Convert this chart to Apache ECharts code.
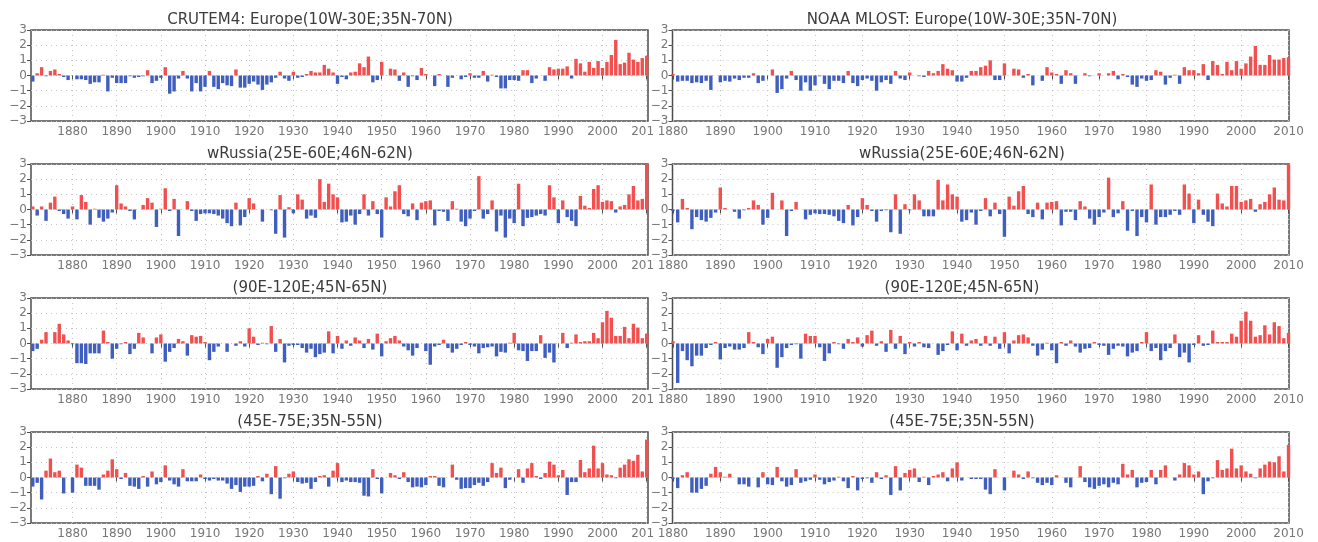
<!DOCTYPE html>
<html>
<head>
<meta charset="utf-8">
<script src="https://cdn.jsdelivr.net/npm/echarts@6/dist/echarts.min.js"></script>
<style>
html,body{margin:0;padding:0;background:#ffffff;}
#chart{width:1318px;height:542px;}
</style>
</head>
<body>
<div id="chart"></div>
<script>
// ---------------- DATA ----------------
const CRU_START_YEAR = 1871;   // CRUTEM4 panels (left column)
const NOAA_START_YEAR = 1880;  // NOAA MLOST panels (right column)
const DECADE_TICKS = [1880, 1890, 1900, 1910, 1920, 1930, 1940, 1950, 1960, 1970, 1980, 1990, 2000, 2010];

const TITLES_LEFT = ['CRUTEM4: Europe(10W-30E;35N-70N)', 'wRussia(25E-60E;46N-62N)', '(90E-120E;45N-65N)', '(45E-75E;35N-55N)'];
const TITLES_RIGHT = ['NOAA MLOST: Europe(10W-30E;35N-70N)', 'wRussia(25E-60E;46N-62N)', '(90E-120E;45N-65N)', '(45E-75E;35N-55N)'];

// CRUTEM4, 1871-2010
const cruEurope = [
  -0.4, 0.15, 0.55, -0.05, 0.3, 0.4, 0.1, -0.1, -0.3, 0.0,
  -0.25, -0.25, -0.3, -0.55, -0.45, -0.45, 0.05, -1.05, -0.15, -0.5,
  -0.5, -0.5, -0.05, -0.15, -0.1, -0.05, 0.35, -0.5, -0.35, -0.15,
  0.55, -1.2, -1.05, -0.2, 0.3, -0.2, -1.05, -0.5, -1.05, -0.75,
  0.3, -0.75, -0.9, -0.5, -0.65, -0.7, 0.4, -0.8, -0.8, -0.55,
  -0.4, -0.6, -0.95, -0.6, -0.45, -0.15, 0.25, -0.2, -0.35, 0.25,
  -0.15, -0.1, 0.1, 0.3, 0.2, 0.2, 0.7, 0.45, 0.2, -0.55,
  -0.1, -0.25, 0.2, 0.25, 0.8, 0.55, 1.25, -0.45, -0.3, 0.9,
  0.0, 0.45, 0.4, -0.35, 0.2, -0.75, -0.05, -0.3, 0.5, 0.1,
  0.0, -0.7, 0.1, 0.0, -0.75, -0.15, 0.0, -0.25, -0.1, 0.15,
  -0.15, -0.15, 0.3, -0.4, 0.05, -0.1, -0.85, -0.85, -0.3, -0.3,
  -0.35, 0.35, 0.35, -0.5, -0.2, 0.0, -0.35, 0.55, 0.4, 0.45,
  0.45, 0.6, -0.2, 1.1, 0.8, 0.25, 0.9, 0.5, 0.95, 0.5,
  0.9, 1.35, 2.35, 0.75, 0.85, 1.5, 1.05, 0.9, 1.15, 1.3
];
const cruWRussia = [
  0.2, -0.4, 0.2, -0.75, 0.45, 0.85, -0.1, -0.3, -0.6, 0.2,
  -0.65, 0.95, 0.5, -1.0, 0.05, -0.55, -0.8, -0.6, -0.2, 1.6,
  0.4, 0.2, -0.1, -0.65, 0.0, 0.3, 0.75, 0.45, -1.15, 0.05,
  1.4, -0.1, 0.7, -1.75, 0.0, 0.55, -0.1, -0.75, -0.3, -0.25,
  -0.25, -0.3, -0.4, -0.6, -0.9, -1.1, 0.45, -1.05, -0.5, 0.75,
  0.4, 0.0, -0.8, 0.0, -0.05, -1.6, 0.95, -1.85, 0.15, -0.25,
  1.0, 0.65, -0.6, -0.4, -0.55, 2.0, 0.5, 1.7, 1.0, 0.8,
  -0.85, -0.8, -0.4, -1.0, -0.3, 1.0, -0.4, 0.55, -0.3, -1.85,
  0.8, 0.2, 1.2, 1.6, -0.3, -0.45, 0.4, -0.7, 0.45, 0.55,
  0.6, -1.05, -0.1, -0.15, -0.75, 0.55, 0.05, -0.8, -1.1, -0.6,
  -0.1, 2.2, -0.6, -0.3, 0.6, -1.45, -0.4, -1.85, -0.6, -0.9,
  1.7, -1.1, -0.55, -0.5, -0.4, -0.3, -0.4, 1.6, 0.8, -0.9,
  0.6, -0.5, -0.75, -1.1, 0.9, 0.25, 0.1, 1.35, 1.6, 0.5,
  0.6, 0.55, -0.2, 0.2, 0.3, 1.0, 1.55, 0.6, 0.7, 3.0
];
const cruEastAsia = [
  -0.5, -0.35, 0.25, 0.75, 0.0, 0.75, 1.3, 0.6, 0.2, -0.05,
  -1.3, -1.3, -1.35, -0.65, -0.65, -0.65, 0.85, 0.1, -1.0, -0.35,
  -0.05, 0.1, -0.7, -0.35, 0.7, 0.4, 0.0, -0.65, 0.4, 0.6,
  -1.2, -0.55, -0.3, 0.3, 0.15, -0.8, 0.55, 0.45, 0.5, 0.1,
  -1.1, -0.55, -0.2, 0.0, -0.55, 0.0, -0.15, 0.15, -0.2, 1.0,
  0.45, -0.1, 0.05, -0.05, 1.15, -0.55, 0.3, -1.25, -0.15, -0.1,
  -0.1, -0.3, -0.6, -0.35, -0.9, -0.7, -0.6, 0.8, -0.65, 0.5,
  -0.35, 0.2, -0.15, 0.4, 0.2, -0.3, 0.3, -0.4, 0.65, -0.85,
  0.15, 0.35, 0.5, 0.2, -0.2, -0.45, -0.8, -0.3, 0.0, -0.5,
  -1.4, -0.2, -0.1, 0.25, -0.3, -0.6, -0.35, -0.1, 0.1, -0.1,
  -0.2, -0.65, -0.3, -0.25, -0.2, -0.85, -0.55, -0.6, 0.05, 0.7,
  -0.45, -0.5, -1.15, -0.5, -0.5, 0.55, -0.95, -0.6, -1.25, 0.0,
  0.7, -0.3, 0.05, 0.6, 0.1, 0.15, 0.15, 0.7, 0.35, 1.4,
  2.15, 1.7, 0.5, 0.5, 1.1, 0.35, 1.3, 1.05, 0.35, 0.65
];
const cruCentralAsia = [
  -0.6, -0.35, -1.45, 0.45, 1.25, 0.35, 0.45, -1.05, 0.0, -1.0,
  0.85, 0.65, -0.55, -0.55, -0.55, -0.8, 0.2, 0.45, 1.2, 0.55,
  -0.1, 0.3, -0.55, -0.6, -0.75, 0.1, -0.6, 0.4, -0.45, -0.3,
  0.8, -0.2, -0.45, -0.6, 0.55, -0.25, -0.25, -0.25, 0.2, -0.1,
  -0.2, -0.1, -0.2, -0.2, -0.4, -0.75, -0.5, -0.95, -0.6, -0.6,
  -0.55, 0.1, -0.25, 0.25, -1.1, 0.75, -1.4, -0.05, 0.25, 0.4,
  -0.3, -0.4, -0.35, -0.75, -0.3, 0.1, 0.15, -0.6, 0.45, 0.95,
  -0.3, -0.2, -0.3, -0.3, -0.35, -1.2, -1.25, 0.55, -0.1, -1.05,
  0.0, 0.3, 0.15, -0.1, 0.35, -0.3, -0.65, -0.6, -0.65, -0.5,
  0.1, 0.1, -0.55, -0.65, 0.0, 0.85, -0.15, -0.75, -0.7, -0.7,
  -0.5, -0.35, -0.55, -0.3, 0.95, 0.3, 0.65, -0.7, -0.15, 0.0,
  0.55, -0.35, 0.6, 0.95, 0.1, -0.1, 0.3, 1.05, 0.85, 0.15,
  0.5, -1.15, -0.3, -0.3, 1.15, 0.35, 0.6, 2.1, 0.6, 0.95,
  0.2, 0.15, -0.05, 0.65, 0.85, 1.2, 1.1, 1.5, 0.4, 2.5
];

// NOAA MLOST, 1880-2010
const noaaEurope = [
  0.1, -0.4, -0.35, -0.35, -0.5, -0.45, -0.5, -0.35, -0.95, 0.0,
  -0.45, -0.35, -0.4, -0.2, -0.3, -0.15, -0.15, 0.15, -0.5, -0.35,
  0.0, 0.4, -1.15, -0.9, -0.2, 0.3, -0.3, -1.0, -0.45, -1.0,
  -0.65, -0.05, -0.55, -0.9, -0.35, -0.35, -0.5, 0.3, -0.5, -0.7,
  -0.3, -0.2, -0.35, -1.0, -0.45, -0.3, -0.55, 0.3, -0.2, -0.3,
  0.2, 0.0, -0.05, -0.1, 0.3, 0.15, 0.3, 0.75, 0.45, 0.35,
  -0.4, -0.4, -0.15, 0.3, 0.3, 0.55, 0.65, 1.0, -0.3, -0.3,
  0.8, 0.0, 0.45, 0.4, -0.15, 0.1, -0.65, 0.0, -0.35, 0.55,
  0.2, 0.1, -0.55, 0.35, 0.15, -0.55, 0.0, 0.15, -0.05, 0.0,
  0.15, 0.0, 0.15, 0.3, -0.25, 0.1, -0.1, -0.6, -0.75, -0.2,
  -0.35, -0.3, 0.35, 0.25, -0.6, -0.15, 0.05, -0.55, 0.55, 0.35,
  0.35, 0.15, 0.75, -0.3, 0.95, 0.7, 0.1, 0.9, 0.35, 0.95,
  0.45, 0.8, 1.25, 1.95, 0.7, 0.7, 1.35, 1.05, 1.05, 1.15, 1.2
];
const noaaWRussia = [
  -0.1, -0.85, 0.7, 0.1, -1.3, -0.5, -0.7, -0.8, -0.55, -0.2,
  1.45, 0.1, 0.0, -0.15, -0.6, -0.05, 0.1, 0.6, 0.3, -1.0,
  -0.55, 1.1, 0.0, 0.6, -1.75, -0.1, 0.5, 0.0, -0.65, -0.35,
  -0.25, -0.3, -0.3, -0.35, -0.45, -0.75, -0.9, 0.3, -1.05, -0.5,
  0.75, 0.3, -0.1, -0.8, -0.1, -0.05, -1.5, 1.0, -1.6, 0.35,
  -0.05, 1.0, 0.6, -0.45, -0.45, -0.45, 1.95, 0.6, 1.65, 1.0,
  0.85, -0.8, -0.7, -0.2, -1.0, -0.1, 0.75, -0.45, 0.45, -0.3,
  -1.8, 0.85, 0.25, 1.2, 1.55, -0.3, -0.5, 0.45, -0.65, 0.45,
  0.5, 0.55, -1.05, -0.15, -0.15, -0.7, 0.55, 0.2, -0.6, -1.0,
  -0.5, -0.2, 2.1, -0.5, -0.25, 0.55, -1.4, -0.1, -1.75, -0.5,
  -0.85, 1.65, -1.0, -0.5, -0.5, -0.35, -0.1, -0.35, 1.65, 1.05,
  -0.9, 0.65, -0.35, -0.8, -1.1, 1.05, 0.4, 0.2, 1.55, 1.55,
  0.5, 0.6, 0.7, -0.15, 0.35, 0.5, 1.0, 1.45, 0.65, 0.6, 3.0
];
const noaaEastAsia = [
  0.15, -2.6, -0.5, -1.1, -1.5, -0.8, -0.8, -0.3, -0.1, 0.1,
  -1.05, -0.3, -0.2, -0.4, -0.4, -0.3, 0.75, 0.1, -0.25, -0.7,
  0.3, 0.45, -1.6, -0.9, -0.3, -0.1, -0.05, -1.0, 0.65, 0.5,
  0.5, -0.25, -1.15, -0.65, 0.1, -0.05, -0.35, 0.3, 0.1, 0.4,
  -0.2, 0.55, 0.85, -0.15, 0.15, -0.55, 0.9, -0.35, 0.5, -0.7,
  0.1, -0.2, 0.1, -0.25, -0.3, 0.0, -0.75, -0.5, -0.1, 0.8,
  -0.45, 0.65, -0.15, 0.2, 0.3, -0.15, 0.5, -0.15, 0.45, -0.35,
  0.75, -0.65, 0.2, 0.55, 0.6, 0.4, -0.15, -0.8, -0.4, 0.05,
  -0.45, -1.3, 0.1, -0.15, 0.2, -0.2, -0.6, -0.35, -0.3, 0.1,
  -0.1, -0.15, -0.75, -0.35, -0.15, -0.2, -0.85, -0.6, -0.5, 0.1,
  0.75, -0.5, -0.3, -1.1, -0.5, -0.3, 0.6, -0.9, -0.6, -1.25,
  -0.1, 0.55, -0.15, -0.1, 0.85, 0.1, 0.1, 0.1, 0.65, 0.45,
  1.5, 2.1, 1.5, 0.45, 0.55, 1.2, 0.6, 1.4, 1.15, 0.35, 0.7
];
const noaaCentralAsia = [
  -0.1, -0.7, 0.15, 0.35, -1.0, -1.0, -0.75, -0.55, 0.25, 0.7,
  0.35, 0.05, 0.25, 0.0, -0.45, -0.45, -0.6, 0.0, -0.65, 0.35,
  -0.45, -0.5, 0.7, -0.25, -0.6, -0.5, 0.55, -0.35, -0.25, -0.15,
  0.2, -0.15, -0.45, -0.3, -0.2, 0.05, -0.25, -0.7, 0.1, -0.85,
  -0.1, -0.05, -0.35, 0.35, -0.1, 0.15, -1.15, 0.75, -0.85, 0.3,
  0.5, 0.6, -0.3, 0.05, -0.5, 0.1, 0.2, 0.35, -0.25, 0.6,
  1.0, -0.2, 0.0, -0.1, -0.1, -0.1, -0.8, -1.1, 0.55, 0.0,
  -0.85, 0.0, 0.45, 0.2, -0.1, 0.4, -0.05, -0.35, -0.5, -0.35,
  -0.5, 0.15, 0.0, -0.35, -0.65, 0.0, 0.75, -0.3, -0.65, -0.75,
  -0.55, -0.45, -0.65, -0.35, -0.45, 0.9, 0.2, 0.5, -0.65, -0.35,
  -0.3, 0.5, -0.45, 0.5, 0.8, 0.0, -0.2, 0.2, 0.95, 0.8,
  0.2, 0.4, -1.1, -0.25, -0.05, 1.15, 0.5, 0.6, 1.9, 0.6,
  0.8, 0.4, 0.25, -0.05, 0.6, 0.85, 1.05, 1.0, 1.4, 0.4, 2.15
];

// ---------------- LAYOUT / STYLE ----------------
const RED = '#f0504f';
const BLUE = '#3f5ebd';
const ROW_TOPS = [30, 164, 298, 432];
const PLOT_H = 91;
const COLS = {
  L: { left: 31, width: 617, min: 1870.6, max: 2010.3, start: CRU_START_YEAR, titleX: 310, titles: TITLES_LEFT },
  R: { left: 672.5, width: 616.5, min: 1879.9, max: 2010.1, start: NOAA_START_YEAR, titleX: 962, titles: TITLES_RIGHT }
};
const PANELS = [
  { col: 'L', row: 0, data: cruEurope },
  { col: 'R', row: 0, data: noaaEurope },
  { col: 'L', row: 1, data: cruWRussia },
  { col: 'R', row: 1, data: noaaWRussia },
  { col: 'L', row: 2, data: cruEastAsia },
  { col: 'R', row: 2, data: noaaEastAsia },
  { col: 'L', row: 3, data: cruCentralAsia },
  { col: 'R', row: 3, data: noaaCentralAsia }
];

const FRAME = '#4d4d4d';
const LABEL_COLOR = '#777777';
const GRID_DOT = '#c4c4c4';
const FONT = 'DejaVu Sans';

const grids = [], xAxes = [], yAxes = [], series = [], graphics = [];

PANELS.forEach(function (p, i) {
  const c = COLS[p.col];
  grids.push({
    left: c.left, top: ROW_TOPS[p.row], width: c.width, height: PLOT_H,
    show: true, borderColor: FRAME, borderWidth: 1.5, backgroundColor: 'transparent'
  });
  xAxes.push({
    type: 'value', gridIndex: i, min: c.min, max: c.max,
    axisLine: { show: false },
    axisTick: { show: true, customValues: DECADE_TICKS, length: 4, lineStyle: { color: FRAME, width: 1 } },
    axisLabel: {
      customValues: DECADE_TICKS, color: LABEL_COLOR, fontSize: 12, fontFamily: FONT, margin: 5,
      formatter: function (v) {
        // the last label of the left column is cut by the neighbouring panel in the original
        if (p.col === 'L' && v === 2010) return '{cut|201}';
        return String(v);
      },
      rich: { cut: { color: LABEL_COLOR, fontSize: 12, fontFamily: FONT, padding: [0, 8, 0, 0] } }
    },
    splitLine: { show: true, lineStyle: { color: GRID_DOT, type: [1, 4], width: 1 } }
  });
  yAxes.push({
    type: 'value', gridIndex: i, min: -3, max: 3, interval: 1,
    axisLine: { show: false },
    axisTick: { show: true, length: 4, lineStyle: { color: FRAME, width: 1 } },
    axisLabel: {
      color: LABEL_COLOR, fontSize: 12, fontFamily: FONT, margin: 4,
      formatter: function (v) { return v < 0 ? '\u2212' + (-v) : String(v); }
    },
    splitLine: { show: true, lineStyle: { color: GRID_DOT, type: [1, 4], width: 1 } }
  });
  series.push({
    type: 'bar', xAxisIndex: i, yAxisIndex: i,
    barWidth: 3.4,
    clip: true,
    data: p.data.map(function (v, k) { return [c.start + k, v]; }),
    itemStyle: { color: function (prm) { return prm.value[1] >= 0 ? RED : BLUE; } },
    silent: true
  });
  graphics.push({
    type: 'text', x: c.titleX, y: ROW_TOPS[p.row] - 10,
    style: {
      text: c.titles[p.row], fill: '#3c3c3c', font: '15px "' + FONT + '"',
      textAlign: 'center', textVerticalAlign: 'middle'
    }
  });
});

const chart = echarts.init(document.getElementById('chart'), null, { renderer: 'canvas' });
chart.setOption({
  backgroundColor: '#ffffff',
  animation: false,
  grid: grids,
  xAxis: xAxes,
  yAxis: yAxes,
  series: series,
  graphic: graphics
});
</script>
</body>
</html>
